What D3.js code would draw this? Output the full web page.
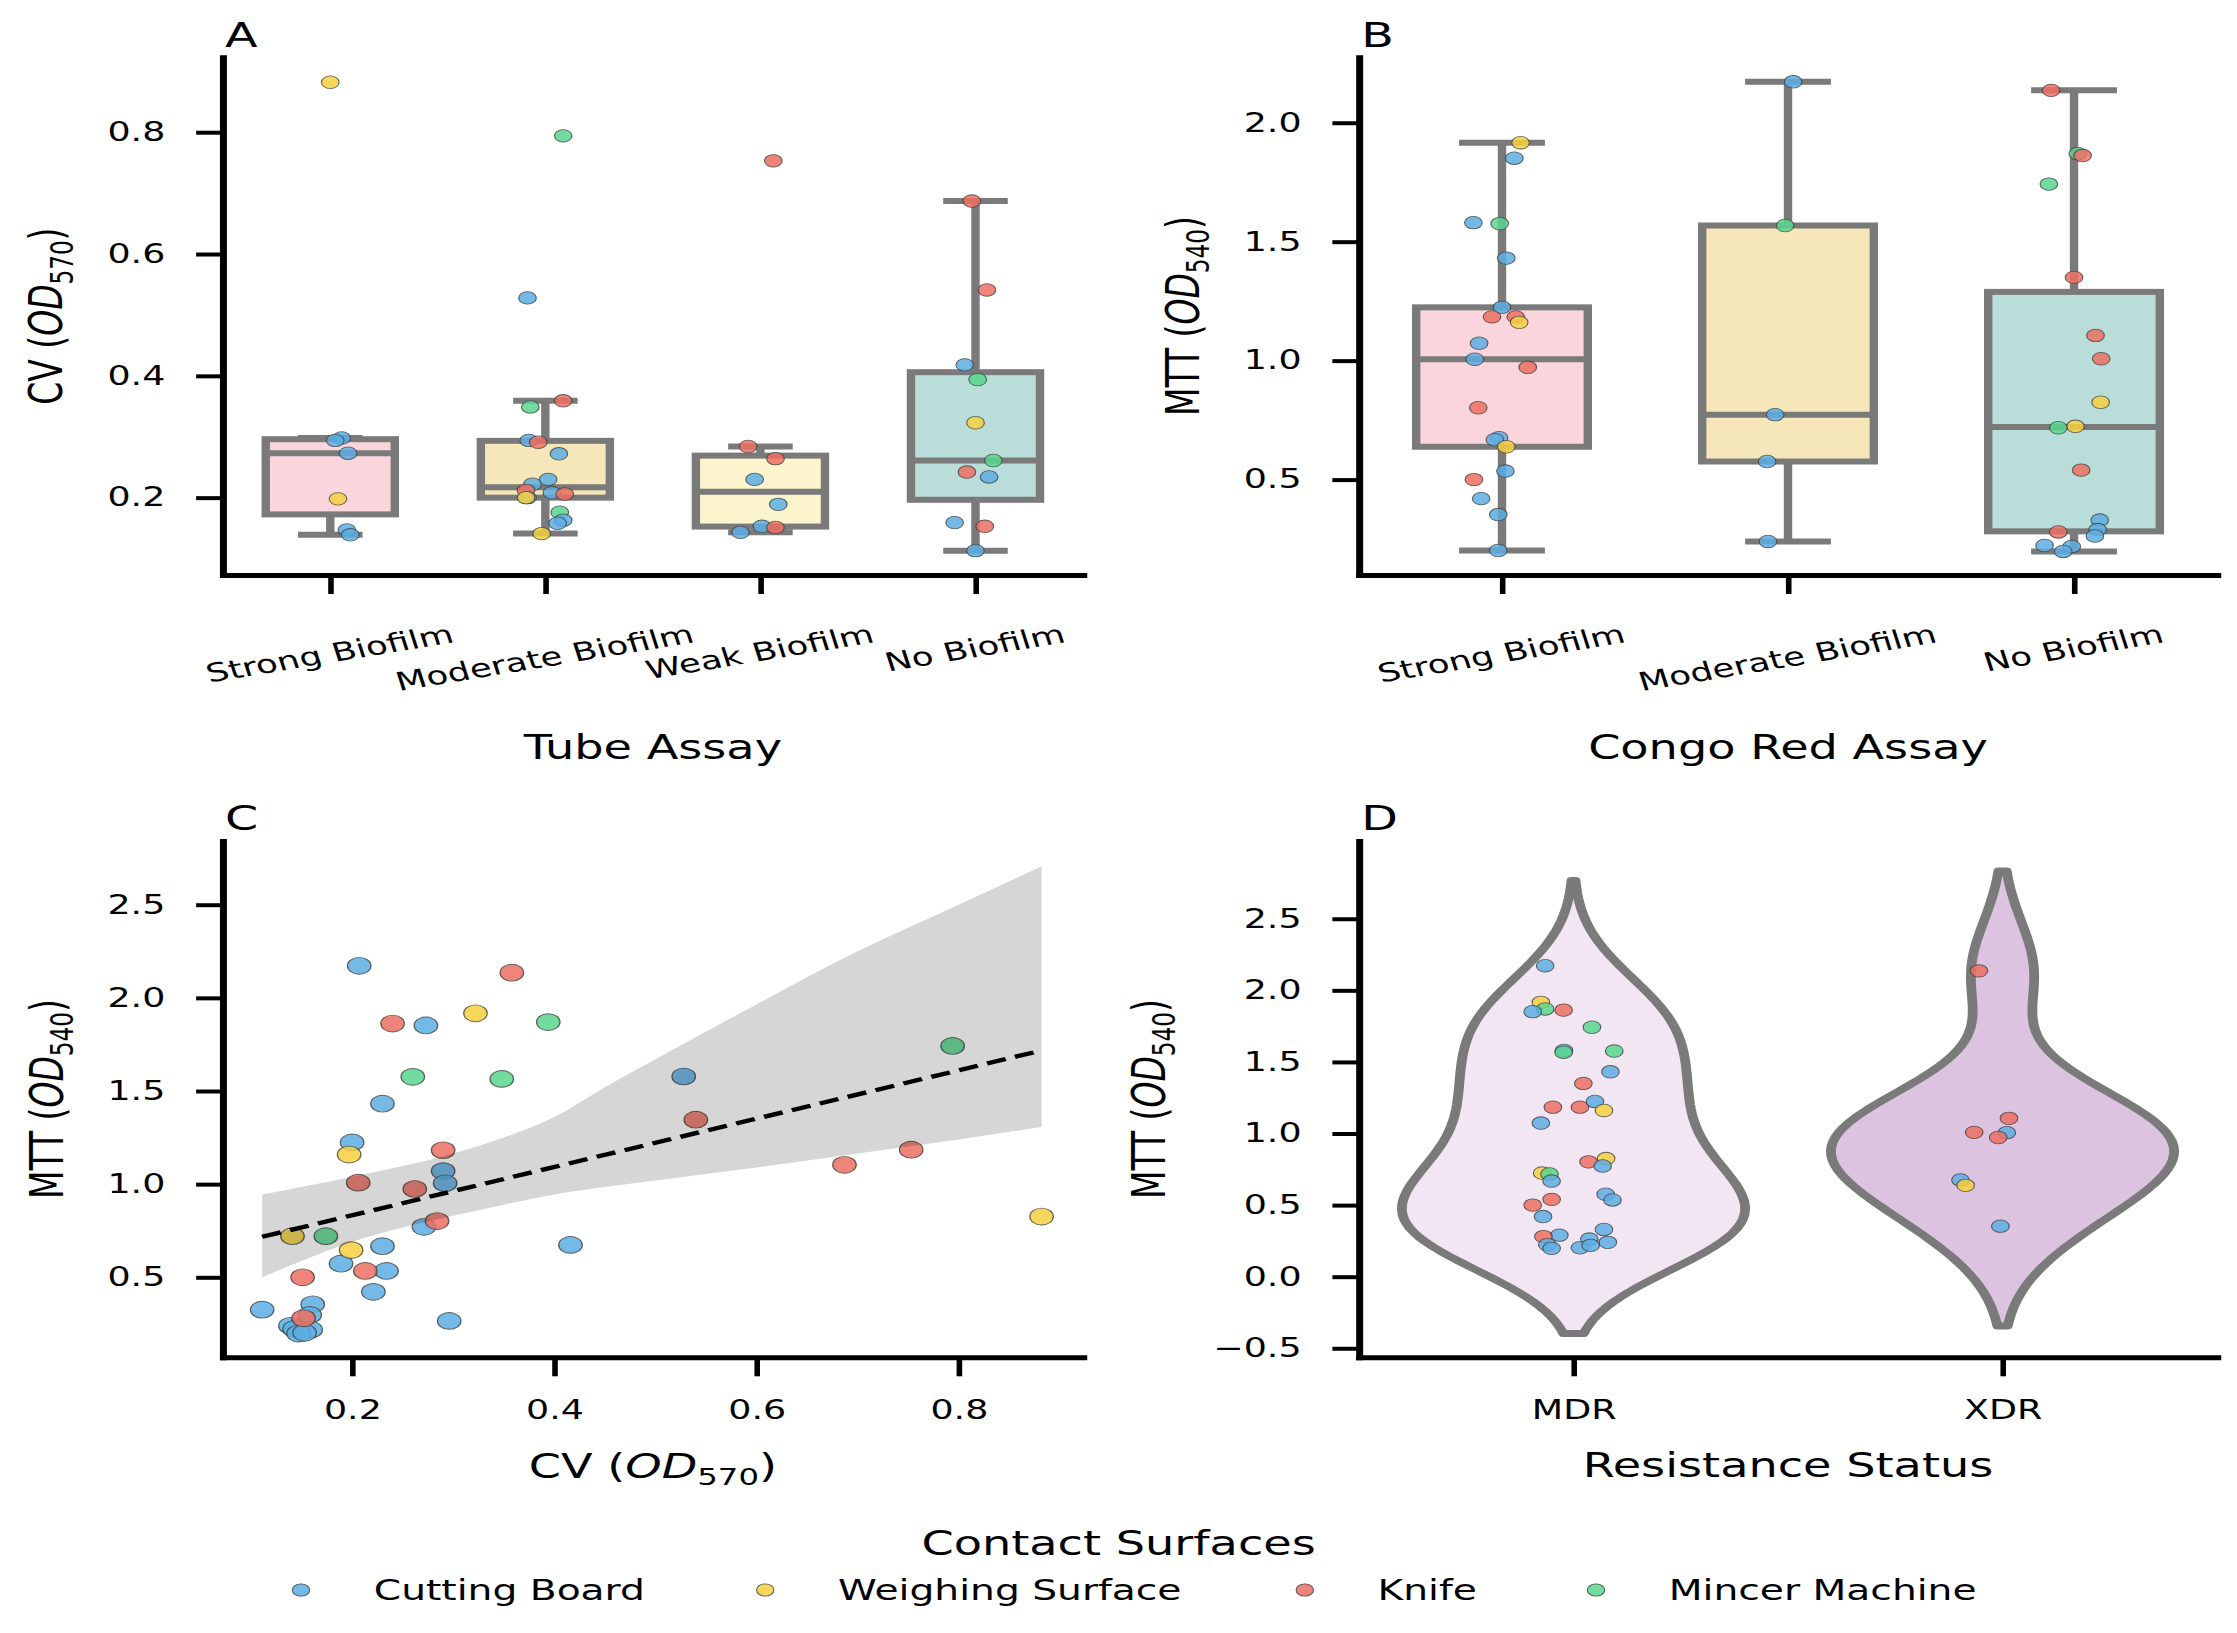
<!DOCTYPE html>
<html>
<head>
<meta charset="utf-8">
<script src="https://cdn.jsdelivr.net/npm/d3@7"></script>
<style>
  html, body { margin: 0; padding: 0; background: #ffffff; }
  svg { display: block; }
  text { font-family: "DejaVu Sans", Verdana, sans-serif; fill: #000; }
</style>
</head>
<body>
<svg id="fig" width="2237" height="1633" preserveAspectRatio="none"></svg>
<script>
// ---------------- DATA ----------------
const surfaces = ["Cutting Board", "Weighing Surface", "Knife", "Mincer Machine"];
const surfaceColors = ["#5DADE2", "#F4D03F", "#EC7063", "#58D68D"];

// Panel A: Tube assay categories and CV values  [category, CV, surface, jitter]
const tubeCategories = ["Strong Biofilm", "Moderate Biofilm", "Weak Biofilm", "No Biofilm"];
const tubeBoxColors = ["#fad5db", "#f6e7ba", "#fbf4cc", "#b9ddd8"];
const tubePoints = [
  [0,0.882,1,0.000],[0,0.298,0,0.053],[0,0.294,0,0.023],[0,0.273,0,0.083],[0,0.198,1,0.036],[0,0.147,0,0.077],[0,0.139,0,0.093],
  [1,0.794,3,0.083],[1,0.528,0,-0.083],[1,0.359,2,0.083],[1,0.349,3,-0.070],[1,0.294,0,-0.077],[1,0.291,2,-0.033],[1,0.272,0,0.063],
  [1,0.230,0,0.013],[1,0.222,0,-0.060],[1,0.212,2,-0.090],[1,0.200,0,-0.083],[1,0.200,1,-0.090],[1,0.208,0,0.030],[1,0.206,2,0.090],
  [1,0.176,3,0.067],[1,0.163,0,0.083],[1,0.158,0,0.057],[1,0.141,1,-0.017],
  [2,0.753,2,0.060],[2,0.284,2,-0.057],[2,0.264,2,0.070],[2,0.230,0,-0.027],[2,0.189,0,0.083],[2,0.153,0,0.007],[2,0.151,2,0.070],[2,0.143,0,-0.093],
  [3,0.687,2,-0.017],[3,0.541,2,0.053],[3,0.418,0,-0.050],[3,0.394,3,0.010],[3,0.323,1,0.000],[3,0.261,3,0.083],[3,0.242,2,-0.040],
  [3,0.234,0,0.063],[3,0.159,0,-0.097],[3,0.153,2,0.043],[3,0.113,0,0.000]
];
const tubeYTicks = [0.2, 0.4, 0.6, 0.8];
const tubeYDomain = [0.073, 0.923];

// Panel B: Congo red assay and MTT values  [category, MTT, surface, jitter]
const congoCategories = ["Strong Biofilm", "Moderate Biofilm", "No Biofilm"];
const congoBoxColors = ["#fad5db", "#f6e7ba", "#b9ddd8"];
const congoPoints = [
  [0,1.916,1,0.065],[0,1.851,0,0.043],[0,1.580,0,-0.100],[0,1.576,3,-0.008],[0,1.431,0,0.015],[0,1.224,0,0.000],[0,1.184,2,-0.035],
  [0,1.184,2,0.048],[0,1.161,1,0.060],[0,1.073,0,-0.080],[0,1.006,0,-0.095],[0,0.972,2,0.090],[0,0.802,2,-0.083],[0,0.676,0,-0.010],
  [0,0.668,0,-0.025],[0,0.638,1,0.015],[0,0.536,0,0.012],[0,0.500,2,-0.098],[0,0.420,0,-0.073],[0,0.353,0,-0.013],[0,0.202,0,-0.013],
  [1,2.172,0,0.018],[1,1.568,3,-0.010],[1,0.773,0,-0.045],[1,0.576,0,-0.073],[1,0.240,0,-0.070],
  [2,2.136,2,-0.080],[2,1.870,3,0.013],[2,1.862,2,0.030],[2,1.742,3,-0.088],[2,1.350,2,0.000],[2,1.106,2,0.075],[2,1.008,2,0.095],
  [2,0.825,1,0.093],[2,0.724,1,0.005],[2,0.718,3,-0.055],[2,0.540,2,0.025],[2,0.330,0,0.090],[2,0.290,0,0.083],[2,0.280,2,-0.055],
  [2,0.263,0,0.073],[2,0.223,0,-0.103],[2,0.219,0,-0.008],[2,0.198,0,-0.038]
];
const congoYTicks = [0.5, 1.0, 1.5, 2.0];
const congoYDomain = [0.099, 2.275];

// Panel C: CV vs MTT  [CV, MTT, surface]
const scatterPoints = [
  [0.207,2.172,0],[0.273,1.852,0],[0.528,1.578,0],[0.230,1.432,0],[0.200,1.224,0],[0.290,1.070,0],[0.292,1.005,0],[0.271,0.771,0],
  [0.230,0.667,0],[0.416,0.674,0],[0.189,0.573,0],[0.234,0.534,0],[0.221,0.422,0],[0.111,0.326,0],[0.161,0.355,0],[0.296,0.266,0],
  [0.158,0.298,0],[0.139,0.240,0],[0.143,0.223,0],[0.159,0.219,0],[0.147,0.198,0],[0.153,0.202,0],
  [0.322,1.917,1],[0.197,1.159,1],[0.882,0.826,1],[0.141,0.721,1],[0.199,0.646,1],
  [0.358,2.135,2],[0.240,1.862,2],[0.540,1.346,2],[0.290,1.182,2],[0.753,1.185,2],[0.687,1.104,2],[0.206,1.008,2],[0.262,0.974,2],
  [0.284,0.802,2],[0.213,0.534,2],[0.151,0.500,2],[0.152,0.280,2],
  [0.794,1.742,3],[0.260,1.576,3],[0.348,1.565,3],[0.394,1.870,3],[0.174,0.721,3]
];
// Confidence band of the regression
const ciX  = [0.111, 0.200, 0.300, 0.350, 0.400, 0.450, 0.500, 0.600, 0.700, 0.800, 0.882];
const ciLo = [0.500, 0.690, 0.830, 0.890, 0.945, 0.985, 1.020, 1.090, 1.165, 1.240, 1.307];
const ciHi = [0.945, 1.040, 1.165, 1.250, 1.360, 1.520, 1.670, 1.965, 2.250, 2.500, 2.706];
const scatterXTicks = [0.2, 0.4, 0.6, 0.8];
const scatterYTicks = [0.5, 1.0, 1.5, 2.0, 2.5];
const scatterXDomain = [0.072, 0.923];
const scatterYDomain = [0.0706, 2.842];

// Panel D: Resistance status  [category, MTT, surface, jitter]
const resCategories = ["MDR", "XDR"];
const resViolinColors = ["#f3e6f3", "#dcc4e1"];
const resPoints = [
  [0,2.172,0,-0.066],[0,1.916,1,-0.076],[0,1.870,3,-0.066],[0,1.851,0,-0.095],[0,1.862,2,-0.023],[0,1.742,3,0.043],[0,1.580,0,-0.022],
  [0,1.568,3,-0.023],[0,1.576,3,0.095],[0,1.431,0,0.086],[0,1.350,2,0.023],[0,1.184,2,-0.048],[0,1.184,2,0.015],[0,1.224,0,0.050],
  [0,1.161,1,0.071],[0,1.073,0,-0.076],[0,0.802,2,0.035],[0,0.825,1,0.076],[0,0.773,0,0.068],[0,0.724,1,-0.073],[0,0.718,3,-0.056],
  [0,0.668,0,-0.051],[0,0.576,0,0.075],[0,0.536,0,0.091],[0,0.540,2,-0.051],[0,0.500,2,-0.095],[0,0.420,0,-0.071],[0,0.330,0,0.071],
  [0,0.290,0,-0.033],[0,0.280,2,-0.070],[0,0.263,0,0.037],[0,0.240,0,0.080],[0,0.223,0,-0.061],[0,0.198,0,-0.051],[0,0.202,0,0.015],
  [0,0.219,0,0.040],
  [1,2.136,2,-0.055],[1,1.106,2,0.015],[1,1.008,2,-0.066],[1,1.006,0,0.010],[1,0.972,2,-0.010],[1,0.676,0,-0.098],[1,0.638,1,-0.086],
  [1,0.353,0,-0.005]
];
const resYTicks = [-0.5, 0.0, 0.5, 1.0, 1.5, 2.0, 2.5];
const resYDomain = [-0.563, 3.043];

// ---------------- LAYOUT ----------------
const STRETCH = 1.4;                // the figure is stretched horizontally
const VBW = 2237 / STRETCH;
const svg = d3.select("#fig").attr("viewBox", `0 0 ${VBW} 1633`);

const FS = { tick: 26, cat: 25.5, label: 33, letter: 34, legend: 28, legendTitle: 33 };
const EDGE = "#7a7a7a";
const P = {
  A: { x0: 159.1, x1: 773.6, y0: 57.3, y1: 575 },
  B: { x0: 970.7, x1: 1583.6, y0: 57.3, y1: 575 },
  C: { x0: 159.1, x1: 773.6, y0: 841, y1: 1357.3 },
  D: { x0: 970.7, x1: 1583.6, y0: 841, y1: 1357.3 }
};
const fmt1 = d3.format(".1f");

function styleAxis(sel) {
  sel.attr("font-size", FS.tick).attr("font-family", '"DejaVu Sans", Verdana, sans-serif');
  sel.select(".domain").attr("stroke", "#000").attr("stroke-width", 5).attr("stroke-linecap", "square");
  sel.selectAll(".tick line").attr("stroke", "#000").attr("stroke-width", 4);
  sel.selectAll(".tick text").attr("fill", "#000");
}
function drawYAxis(g, p, scale, ticks) {
  const ax = d3.axisLeft(scale).tickValues(ticks).tickSize(19).tickSizeOuter(0).tickPadding(22).tickFormat(fmt1);
  g.append("g").attr("transform", `translate(${p.x0},0)`).call(ax).call(styleAxis);
}
function drawXAxis(g, p, scale, ticks, fmt) {
  const ax = d3.axisBottom(scale).tickSize(19).tickSizeOuter(0).tickPadding(24).tickFormat(fmt);
  if (ticks) ax.tickValues(ticks);
  g.append("g").attr("transform", `translate(0,${p.y1})`).call(ax).call(styleAxis);
}
function letter(p, txt) {
  svg.append("text").attr("x", p.x0 + 1.6).attr("y", p.y0 - 10.6).attr("font-size", FS.letter).text(txt);
}
function xLabel(p, y, parts) { richText(svg.append("text"), parts).attr("x", (p.x0 + p.x1) / 2).attr("y", y).attr("text-anchor", "middle").attr("font-size", FS.label); }
function yLabel(p, cx, parts) {
  const cy = (p.y0 + p.y1) / 2;
  richText(svg.append("text"), parts).attr("text-anchor", "middle").attr("font-size", FS.label)
    .attr("transform", `translate(${cx + 0.31 * FS.label},${cy}) rotate(-90)`);
}
// parts: array of strings or {it:"OD"} / {sub:"570"}
function richText(t, parts) {
  let shifted = false;
  parts.forEach(pt => {
    if (typeof pt === "string") {
      const s = t.append("tspan").text(pt);
      if (shifted) { s.attr("dy", -0.22 * FS.label); shifted = false; }
    } else if (pt.it) {
      t.append("tspan").attr("font-style", "italic").text(pt.it);
    } else if (pt.sub) {
      t.append("tspan").attr("font-size", 0.7 * FS.label).attr("dy", 0.22 * FS.label).text(pt.sub);
      shifted = true;
    }
  });
  return t;
}
function catLabels(g, p, scale, cats, angle) {
  const a = angle * Math.PI / 180;
  cats.forEach(c => {
    const t = g.append("text").attr("font-size", FS.cat).attr("text-anchor", "middle").attr("dy", "0.25em").text(c);
    const L = t.node().getComputedTextLength();
    const bh = L * Math.sin(a) + FS.cat * 0.95 * Math.cos(a);
    t.attr("transform", `translate(${scale(c)},${p.y1 + 49 + bh / 2}) rotate(${-angle})`);
  });
}
function drawPoint(g, cx, cy, r, surf, sw) {
  g.append("circle").attr("cx", cx).attr("cy", cy).attr("r", r)
    .attr("fill", surfaceColors[surf]).attr("fill-opacity", 0.85)
    .attr("stroke", "#3d3d3d").attr("stroke-opacity", 0.8).attr("stroke-width", sw);
}
function boxStats(vals) {
  const v = vals.slice().sort(d3.ascending);
  const q1 = d3.quantileSorted(v, 0.25), med = d3.quantileSorted(v, 0.5), q3 = d3.quantileSorted(v, 0.75);
  const iqr = q3 - q1;
  const lo = d3.min(v.filter(d => d >= q1 - 1.5 * iqr));
  const hi = d3.max(v.filter(d => d <= q3 + 1.5 * iqr));
  return { q1, med, q3, lo, hi };
}
function boxPanel(p, cats, colors, points, yDomain, yTicks) {
  const g = svg.append("g");
  const x = d3.scalePoint().domain(cats).range([p.x0, p.x1]).padding(0.5);
  const y = d3.scaleLinear().domain(yDomain).range([p.y1, p.y0]);
  const step = x.step();
  cats.forEach((c, i) => {
    const s = boxStats(points.filter(d => d[0] === i).map(d => d[1]));
    const cx = x(c), bw = 0.6 * step, cw = 0.3 * step;
    const bg = g.append("g").attr("stroke", EDGE).attr("stroke-width", 6).attr("fill", "none");
    bg.append("line").attr("x1", cx).attr("x2", cx).attr("y1", y(s.q3)).attr("y2", y(s.hi));
    bg.append("line").attr("x1", cx).attr("x2", cx).attr("y1", y(s.q1)).attr("y2", y(s.lo));
    bg.append("line").attr("x1", cx - cw / 2).attr("x2", cx + cw / 2).attr("y1", y(s.hi)).attr("y2", y(s.hi));
    bg.append("line").attr("x1", cx - cw / 2).attr("x2", cx + cw / 2).attr("y1", y(s.lo)).attr("y2", y(s.lo));
    bg.append("rect").attr("x", cx - bw / 2).attr("width", bw).attr("y", y(s.q3)).attr("height", y(s.q1) - y(s.q3))
      .attr("fill", colors[i]);
    bg.append("line").attr("x1", cx - bw / 2).attr("x2", cx + bw / 2).attr("y1", y(s.med)).attr("y2", y(s.med));
  });
  const pg = svg.append("g");
  points.forEach(d => drawPoint(pg, x(cats[d[0]]) + d[3] * step, y(d[1]), 6.3, d[2], 0.8));
  drawYAxis(svg, p, y, yTicks);
  drawXAxis(svg, p, x, null, () => "");
  catLabels(svg.append("g"), p, x, cats, 13);
  return { x, y };
}

// ---------------- PANEL A ----------------
boxPanel(P.A, tubeCategories, tubeBoxColors, tubePoints, tubeYDomain, tubeYTicks);
letter(P.A, "A");
xLabel(P.A, 759, ["Tube Assay"]);
yLabel(P.A, 34.3, ["CV (", { it: "OD" }, { sub: "570" }, ")"]);

// ---------------- PANEL B ----------------
boxPanel(P.B, congoCategories, congoBoxColors, congoPoints, congoYDomain, congoYTicks);
letter(P.B, "B");
xLabel(P.B, 759, ["Congo Red Assay"]);
yLabel(P.B, 846.4, ["MTT (", { it: "OD" }, { sub: "540" }, ")"]);

// ---------------- PANEL C ----------------
(function () {
  const p = P.C;
  const x = d3.scaleLinear().domain(scatterXDomain).range([p.x0, p.x1]);
  const y = d3.scaleLinear().domain(scatterYDomain).range([p.y1, p.y0]);
  const g = svg.append("g");
  scatterPoints.forEach(d => drawPoint(g, x(d[0]), y(d[1]), 8.4, d[2], 0.9));
  const band = ciX.map((v, i) => [v, ciLo[i], ciHi[i]]);
  g.append("path").datum(band)
    .attr("d", d3.area().curve(d3.curveMonotoneX).x(d => x(d[0])).y0(d => y(d[1])).y1(d => y(d[2])))
    .attr("fill", "#000").attr("fill-opacity", 0.16);
  const xs = scatterPoints.map(d => d[0]), ys = scatterPoints.map(d => d[1]);
  const mx = d3.mean(xs), my = d3.mean(ys);
  let sxy = 0, sxx = 0;
  xs.forEach((v, i) => { sxy += (v - mx) * (ys[i] - my); sxx += (v - mx) * (v - mx); });
  const slope = sxy / sxx, icpt = my - slope * mx;
  const xa = d3.min(xs), xb = d3.max(xs);
  g.append("line").attr("x1", x(xa)).attr("x2", x(xb)).attr("y1", y(icpt + slope * xa)).attr("y2", y(icpt + slope * xb))
    .attr("stroke", "#000").attr("stroke-width", 4.3).attr("stroke-dasharray", "14 7");
  drawYAxis(svg, p, y, scatterYTicks);
  drawXAxis(svg, p, x, scatterXTicks, fmt1);
  letter(p, "C");
  xLabel(p, 1478, ["CV (", { it: "OD" }, { sub: "570" }, ")"]);
  yLabel(p, 35, ["MTT (", { it: "OD" }, { sub: "540" }, ")"]);
})();

// ---------------- PANEL D ----------------
(function () {
  const p = P.D;
  const x = d3.scalePoint().domain(resCategories).range([p.x0, p.x1]).padding(0.5);
  const y = d3.scaleLinear().domain(resYDomain).range([p.y1, p.y0]);
  const step = x.step();
  const g = svg.append("g");
  resCategories.forEach((c, i) => {
    const v = resPoints.filter(d => d[0] === i).map(d => d[1]);
    const n = v.length;
    const bw = d3.deviation(v) * Math.pow(n, -0.2);
    const lo = d3.min(v) - 2 * bw, hi = d3.max(v) + 2 * bw;
    const grid = d3.range(100).map(k => lo + (hi - lo) * k / 99);
    const dens = grid.map(t => d3.sum(v, vi => Math.exp(-0.5 * ((t - vi) / bw) ** 2)) / (n * bw * Math.sqrt(2 * Math.PI)));
    const mxd = d3.max(dens);
    const pts = grid.map((t, k) => [t, 0.4 * step * dens[k] / mxd]);
    const cx = x(c);
    g.append("path").datum(pts)
      .attr("d", d3.area().y(d => y(d[0])).x0(d => cx - d[1]).x1(d => cx + d[1]))
      .attr("fill", resViolinColors[i]).attr("stroke", EDGE).attr("stroke-width", 7).attr("stroke-linejoin", "round");
  });
  resPoints.forEach(d => drawPoint(g, x(resCategories[d[0]]) + d[3] * step, y(d[1]), 6.3, d[2], 0.8));
  drawYAxis(svg, p, y, resYTicks);
  drawXAxis(svg, p, x, null, d => d);
  letter(p, "D");
  xLabel(p, 1477, ["Resistance Status"]);
  yLabel(p, 822, ["MTT (", { it: "OD" }, { sub: "540" }, ")"]);
})();

// ---------------- LEGEND ----------------
(function () {
  const lg = svg.append("g");
  lg.append("text").attr("x", 799).attr("y", 1543).attr("dy", "0.36em").attr("text-anchor", "middle")
    .attr("font-size", FS.legendTitle).text("Contact Surfaces");
  const markerX = [215, 546.6, 932, 1140];
  surfaces.forEach((s, i) => {
    drawPoint(lg, markerX[i], 1590, 6.2, i, 0.8);
    lg.append("text").attr("x", markerX[i] + 52).attr("y", 1590).attr("dy", "0.36em")
      .attr("font-size", FS.legend).text(s);
  });
})();
</script>
</body>
</html>
